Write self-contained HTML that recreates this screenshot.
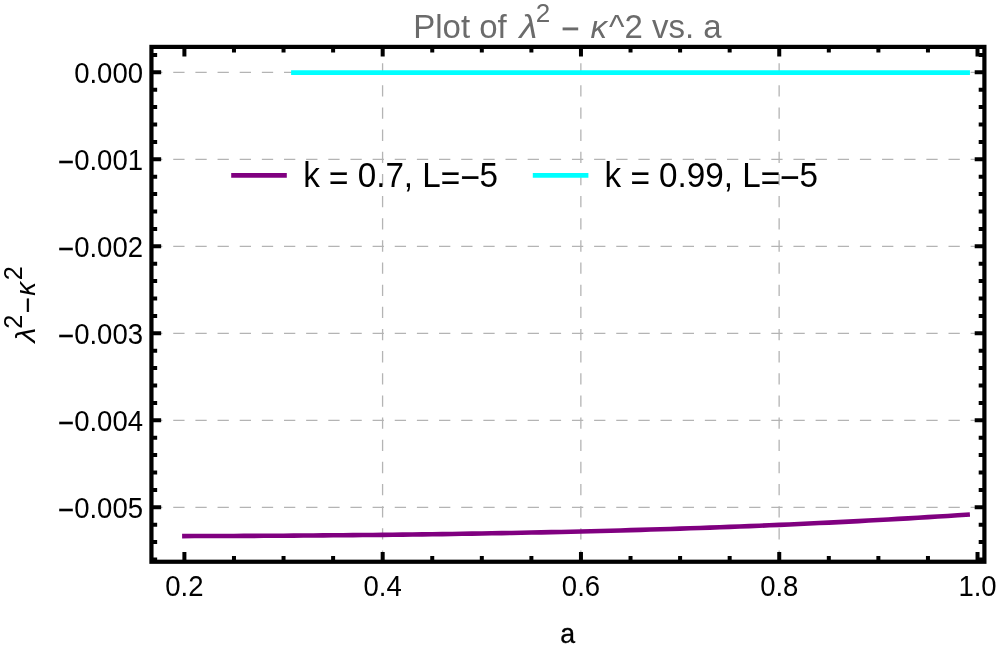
<!DOCTYPE html>
<html><head><meta charset="utf-8"><title>Plot</title>
<style>html,body{margin:0;padding:0;background:#fff;}body{width:997px;height:651px;overflow:hidden;}svg{display:block;will-change:transform;}text{font-family:"Liberation Sans",sans-serif;}</style>
</head><body>
<svg width="997" height="651" viewBox="0 0 997 651">
<rect width="997" height="651" fill="#ffffff"/>
<g stroke="#b4b4b4" stroke-width="1.3" fill="none" stroke-dasharray="11.3 10.85">
<path d="M151.10 72.30H984.40"/>
<path d="M151.10 159.30H984.40"/>
<path d="M151.10 246.30H984.40"/>
<path d="M151.10 333.30H984.40"/>
<path d="M151.10 420.30H984.40"/>
<path d="M151.10 507.30H984.40"/>
<path d="M382.58 561.75V46.90"/>
<path d="M580.86 561.75V46.90"/>
<path d="M779.14 561.75V46.90"/>
</g>
<path d="M184.40 536.10 L194.31 536.07 L204.23 536.04 L214.14 536.01 L224.06 535.97 L233.97 535.93 L243.88 535.89 L253.80 535.84 L263.71 535.79 L273.63 535.74 L283.54 535.68 L293.45 535.62 L303.37 535.55 L313.28 535.48 L323.20 535.40 L333.11 535.32 L343.02 535.24 L352.94 535.15 L362.85 535.06 L372.77 534.96 L382.68 534.85 L392.59 534.74 L402.51 534.63 L412.42 534.51 L422.34 534.38 L432.25 534.25 L442.16 534.11 L452.08 533.96 L461.99 533.81 L471.91 533.66 L481.82 533.49 L491.73 533.32 L501.65 533.14 L511.56 532.96 L521.48 532.77 L531.39 532.57 L541.30 532.36 L551.22 532.15 L561.13 531.93 L571.05 531.70 L580.96 531.46 L590.87 531.22 L600.79 530.97 L610.70 530.70 L620.62 530.43 L630.53 530.16 L640.44 529.87 L650.36 529.57 L660.27 529.27 L670.19 528.95 L680.10 528.63 L690.01 528.30 L699.93 527.96 L709.84 527.60 L719.76 527.24 L729.67 526.87 L739.58 526.49 L749.50 526.10 L759.41 525.70 L769.33 525.29 L779.24 524.86 L789.15 524.43 L799.07 523.98 L808.98 523.53 L818.90 523.06 L828.81 522.59 L838.72 522.10 L848.64 521.60 L858.55 521.08 L868.47 520.56 L878.38 520.02 L888.29 519.48 L898.21 518.92 L908.12 518.34 L918.04 517.76 L927.95 517.16 L937.86 516.55 L947.78 515.93 L957.69 515.29 L967.61 514.64" fill="none" stroke="#800080" stroke-width="4.6" stroke-linecap="square" stroke-linejoin="round"/>
<path d="M293.45 72.55H967.61" fill="none" stroke="#00ffff" stroke-width="4.7" stroke-linecap="square"/>
<g stroke="#000" stroke-width="4.0" fill="none">
<path d="M184.40 561.75v-9.7M184.40 46.90v9.7"/>
<path d="M233.97 561.75v-5.7M233.97 46.90v5.7"/>
<path d="M283.54 561.75v-5.7M283.54 46.90v5.7"/>
<path d="M333.11 561.75v-5.7M333.11 46.90v5.7"/>
<path d="M382.68 561.75v-9.7M382.68 46.90v9.7"/>
<path d="M432.25 561.75v-5.7M432.25 46.90v5.7"/>
<path d="M481.82 561.75v-5.7M481.82 46.90v5.7"/>
<path d="M531.39 561.75v-5.7M531.39 46.90v5.7"/>
<path d="M580.96 561.75v-9.7M580.96 46.90v9.7"/>
<path d="M630.53 561.75v-5.7M630.53 46.90v5.7"/>
<path d="M680.10 561.75v-5.7M680.10 46.90v5.7"/>
<path d="M729.67 561.75v-5.7M729.67 46.90v5.7"/>
<path d="M779.24 561.75v-9.7M779.24 46.90v9.7"/>
<path d="M828.81 561.75v-5.7M828.81 46.90v5.7"/>
<path d="M878.38 561.75v-5.7M878.38 46.90v5.7"/>
<path d="M927.95 561.75v-5.7M927.95 46.90v5.7"/>
<path d="M977.52 561.75v-9.7M977.52 46.90v9.7"/>
<path d="M151.45 54.90h5.7M984.40 54.90h-5.7"/>
<path d="M151.45 72.30h9.7M984.40 72.30h-9.7"/>
<path d="M151.45 89.70h5.7M984.40 89.70h-5.7"/>
<path d="M151.45 107.10h5.7M984.40 107.10h-5.7"/>
<path d="M151.45 124.50h5.7M984.40 124.50h-5.7"/>
<path d="M151.45 141.90h5.7M984.40 141.90h-5.7"/>
<path d="M151.45 159.30h9.7M984.40 159.30h-9.7"/>
<path d="M151.45 176.70h5.7M984.40 176.70h-5.7"/>
<path d="M151.45 194.10h5.7M984.40 194.10h-5.7"/>
<path d="M151.45 211.50h5.7M984.40 211.50h-5.7"/>
<path d="M151.45 228.90h5.7M984.40 228.90h-5.7"/>
<path d="M151.45 246.30h9.7M984.40 246.30h-9.7"/>
<path d="M151.45 263.70h5.7M984.40 263.70h-5.7"/>
<path d="M151.45 281.10h5.7M984.40 281.10h-5.7"/>
<path d="M151.45 298.50h5.7M984.40 298.50h-5.7"/>
<path d="M151.45 315.90h5.7M984.40 315.90h-5.7"/>
<path d="M151.45 333.30h9.7M984.40 333.30h-9.7"/>
<path d="M151.45 350.70h5.7M984.40 350.70h-5.7"/>
<path d="M151.45 368.10h5.7M984.40 368.10h-5.7"/>
<path d="M151.45 385.50h5.7M984.40 385.50h-5.7"/>
<path d="M151.45 402.90h5.7M984.40 402.90h-5.7"/>
<path d="M151.45 420.30h9.7M984.40 420.30h-9.7"/>
<path d="M151.45 437.70h5.7M984.40 437.70h-5.7"/>
<path d="M151.45 455.10h5.7M984.40 455.10h-5.7"/>
<path d="M151.45 472.50h5.7M984.40 472.50h-5.7"/>
<path d="M151.45 489.90h5.7M984.40 489.90h-5.7"/>
<path d="M151.45 507.30h9.7M984.40 507.30h-9.7"/>
<path d="M151.45 524.70h5.7M984.40 524.70h-5.7"/>
<path d="M151.45 542.10h5.7M984.40 542.10h-5.7"/>
<path d="M151.45 559.50h5.7M984.40 559.50h-5.7"/>
</g>
<rect x="151.45" y="46.90" width="832.95" height="514.85" fill="none" stroke="#000" stroke-width="4.2"/>
<text transform="translate(143.0 82.75) scale(1 1.095)" font-size="27.5" text-anchor="end">0.000</text>
<text transform="translate(143.0 169.75) scale(1 1.095)" font-size="27.5" text-anchor="end"><tspan dy="2.05" stroke="#000" stroke-width="0.35">−</tspan><tspan dy="-2.05">0.001</tspan></text>
<text transform="translate(143.0 256.75) scale(1 1.095)" font-size="27.5" text-anchor="end"><tspan dy="2.05" stroke="#000" stroke-width="0.35">−</tspan><tspan dy="-2.05">0.002</tspan></text>
<text transform="translate(143.0 343.75) scale(1 1.095)" font-size="27.5" text-anchor="end"><tspan dy="2.05" stroke="#000" stroke-width="0.35">−</tspan><tspan dy="-2.05">0.003</tspan></text>
<text transform="translate(143.0 430.75) scale(1 1.095)" font-size="27.5" text-anchor="end"><tspan dy="2.05" stroke="#000" stroke-width="0.35">−</tspan><tspan dy="-2.05">0.004</tspan></text>
<text transform="translate(143.0 517.75) scale(1 1.095)" font-size="27.5" text-anchor="end"><tspan dy="2.05" stroke="#000" stroke-width="0.35">−</tspan><tspan dy="-2.05">0.005</tspan></text>
<text transform="translate(184.40 595.75) scale(1 1.095)" font-size="27.5" text-anchor="middle">0.2</text>
<text transform="translate(382.68 595.75) scale(1 1.095)" font-size="27.5" text-anchor="middle">0.4</text>
<text transform="translate(580.96 595.75) scale(1 1.095)" font-size="27.5" text-anchor="middle">0.6</text>
<text transform="translate(779.24 595.75) scale(1 1.095)" font-size="27.5" text-anchor="middle">0.8</text>
<text transform="translate(977.52 595.75) scale(1 1.095)" font-size="27.5" text-anchor="middle">1.0</text>
<text transform="translate(567.6 643.1) scale(0.97 1.02)" font-size="27.5" stroke="#000" stroke-width="0.3" text-anchor="middle">a</text>
<g transform="translate(34.9 343.8) rotate(-90)" font-size="27.5" fill="#000">
<text transform="translate(1.2 0) scale(1.1 1)" font-style="italic">λ</text>
<text x="15" y="-12.8" font-size="25.4">2</text>
<text x="30.3" y="1.9" stroke="#000" stroke-width="0.3">−</text>
<text x="48" y="0" font-style="italic">κ</text>
<text x="63.5" y="-12.8" font-size="25.4">2</text>
</g>
<g font-size="33.0" fill="#6b6b6b">
<text transform="translate(413.2 37.7) scale(1 1.027)">Plot of</text>
<text transform="translate(519.4 37.7) scale(1.1 1.027)" font-style="italic">λ</text>
<text x="535.8" y="22.3" font-size="26">2</text>
<rect x="562.6" y="27.45" width="15.6" height="2.9"/>
<text transform="translate(590.5 37.7) scale(1 0.96)" font-style="italic">κ</text>
<text transform="translate(609 37.7) scale(1 1.027)">^2 vs. a</text>
</g>
<path d="M231.2 175.4H286.8" stroke="#800080" stroke-width="4.6" fill="none"/>
<path d="M532.8 175.4H588.4" stroke="#00ffff" stroke-width="4.6" fill="none"/>
<g font-size="33.23" fill="#000">
<text transform="translate(303.2 187.3) scale(1 1.04)">k <tspan dy="2.5" stroke="#000" stroke-width="0.2">=</tspan><tspan dy="-2.5"> 0.7, L</tspan><tspan dy="2.5" stroke="#000" stroke-width="0.2">=</tspan><tspan dy="-0.4" stroke="#000" stroke-width="0.3">−</tspan><tspan dy="-2.1">5</tspan></text>
<text transform="translate(604.6 187.3) scale(1 1.04)">k <tspan dy="2.5" stroke="#000" stroke-width="0.2">=</tspan><tspan dy="-2.5"> 0.99, L</tspan><tspan dy="2.5" stroke="#000" stroke-width="0.2">=</tspan><tspan dy="-0.4" stroke="#000" stroke-width="0.3">−</tspan><tspan dy="-2.1">5</tspan></text>
</g>
</svg></body></html>
